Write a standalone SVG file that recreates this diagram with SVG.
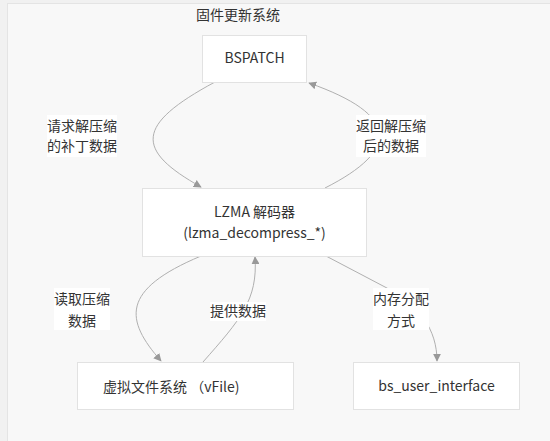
<svg xmlns="http://www.w3.org/2000/svg" width="550" height="441" viewBox="0 0 550 441">
<style>
text{font-family:"Noto Sans CJK SC","Noto Sans",sans-serif;font-size:14px;fill:#333;}
.node{fill:#fff;stroke:#e2e2e2;stroke-width:1;}
.edge{fill:none;stroke:#b0b0b0;stroke-width:1;}
.lbl{fill:#fff;}
</style>
<defs>
<marker id="arr" viewBox="0 0 10 10" refX="9" refY="5" markerWidth="8" markerHeight="8" markerUnits="userSpaceOnUse" orient="auto">
<path d="M0,0 L10,5 L0,10 z" fill="#999"/>
</marker>
</defs>
<rect x="0" y="0" width="550" height="441" fill="#f1f1f1"/>
<g id="cluster">
<rect x="7.5" y="3.5" width="560" height="460" fill="#f8f8f8" stroke="#e4e4e4"/>
<text x="238" y="20" text-anchor="middle">固件更新系统</text>
</g>
<g id="edges">
<path class="edge" d="M215,82 C135,125 135,150 201,187" marker-end="url(#arr)"/>
<path class="edge" d="M325,188 C400,150 400,115 309,83" marker-end="url(#arr)"/>
<path class="edge" d="M201,256 C120,290 125,320 161,361" marker-end="url(#arr)"/>
<path class="edge" d="M203,362 C240,320 258,300 255,257" marker-end="url(#arr)"/>
<path class="edge" d="M326,256 L385,287 C420,305 437,330 437,361" marker-end="url(#arr)"/>
</g>
<g id="edge-labels">
<rect class="lbl" x="47" y="115" width="70" height="42"/>
<text x="82" y="131" text-anchor="middle">请求解压缩</text>
<text x="82" y="151" text-anchor="middle">的补丁数据</text>
<rect class="lbl" x="356" y="115" width="70" height="42"/>
<text x="391" y="131" text-anchor="middle">返回解压缩</text>
<text x="391" y="151" text-anchor="middle">后的数据</text>
<rect class="lbl" x="54" y="288" width="56" height="42"/>
<text x="82" y="304" text-anchor="middle">读取压缩</text>
<text x="82" y="326" text-anchor="middle">数据</text>
<rect class="lbl" x="210" y="302" width="56" height="19"/>
<text x="238" y="316" text-anchor="middle">提供数据</text>
<rect class="lbl" x="373" y="288" width="56" height="42"/>
<text x="401" y="304" text-anchor="middle">内存分配</text>
<text x="401" y="326" text-anchor="middle">方式</text>
</g>
<g id="node-bspatch">
<rect class="node" x="202.5" y="35.5" width="104" height="47"/>
<text x="254.5" y="63" text-anchor="middle">BSPATCH</text>
</g>
<g id="node-lzma">
<rect class="node" x="142.5" y="188.5" width="224" height="68"/>
<text x="254.5" y="217" text-anchor="middle">LZMA 解码器</text>
<text x="254.5" y="238" text-anchor="middle">(lzma_decompress_*)</text>
</g>
<g id="node-vfile">
<rect class="node" x="77.5" y="362.5" width="216" height="47"/>
<text x="103" y="392">虚拟文件系统 （vFile)</text>
</g>
<g id="node-bsui">
<rect class="node" x="353.5" y="362.5" width="166" height="47"/>
<text x="436.5" y="391" text-anchor="middle">bs_user_interface</text>
</g>
</svg>
